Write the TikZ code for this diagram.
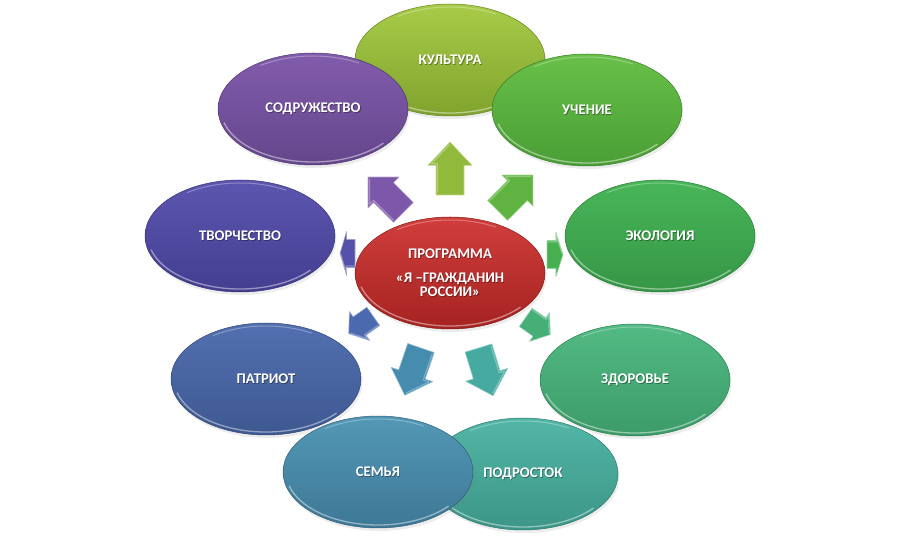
\documentclass[tikz,border=0pt]{standalone}
\usepackage{fontspec}
\setmainfont{Carlito}
\usetikzlibrary{shapes.geometric,shadows,calc}

\definecolor{kultA}{RGB}{168,204,72}\definecolor{kultB}{RGB}{128,163,45}
\definecolor{sodrA}{RGB}{130,92,172}\definecolor{sodrB}{RGB}{100,70,140}
\definecolor{uchA}{RGB}{104,192,72}\definecolor{uchB}{RGB}{74,158,54}
\definecolor{ekoA}{RGB}{72,182,88}\definecolor{ekoB}{RGB}{54,150,70}
\definecolor{zdorA}{RGB}{82,186,132}\definecolor{zdorB}{RGB}{60,155,105}
\definecolor{podrA}{RGB}{82,182,166}\definecolor{podrB}{RGB}{60,150,135}
\definecolor{semA}{RGB}{82,152,182}\definecolor{semB}{RGB}{62,120,150}
\definecolor{patA}{RGB}{82,112,176}\definecolor{patB}{RGB}{62,88,145}
\definecolor{tvorA}{RGB}{92,86,176}\definecolor{tvorB}{RGB}{68,62,145}
\definecolor{redA}{RGB}{208,62,60}\definecolor{redB}{RGB}{165,35,33}

\definecolor{arKult}{RGB}{145,185,60}
\definecolor{arSodr}{RGB}{125,88,170}
\definecolor{arUch}{RGB}{95,180,65}
\definecolor{arEko}{RGB}{70,175,80}
\definecolor{arZdor}{RGB}{70,175,120}
\definecolor{arPodr}{RGB}{70,170,160}
\definecolor{arSem}{RGB}{70,140,175}
\definecolor{arPat}{RGB}{75,105,175}
\definecolor{arTvor}{RGB}{85,80,170}

\tikzset{
  oval/.style={ellipse, minimum width=190pt, minimum height=112pt, inner sep=0pt,
    drop shadow={shadow xshift=1.5pt, shadow yshift=-3pt, opacity=0.15}},
  lbl/.style={text=white, font=\bfseries\fontsize{14.7}{16}\selectfont, align=center, inner sep=0pt},
  lblshadow/.style={lbl, text=black, text opacity=0.35},
  rim/.style={white, opacity=0.45, line width=1.3pt},
  toprim/.style={white, opacity=0.3, line width=1pt},
  arrowbody/.style={line width=0.6pt, line join=round},
  arrowhl/.style={white, opacity=0.3, line width=1.2pt, line join=round}
}

\newcommand\myoval[5]{%
  \node[oval, top color=#3, bottom color=#4, draw=#4!80!black, line width=0.5pt] (#1) at (#2) {};
  \draw[rim] ($(#1.center)+(195:92pt and 53pt)$) arc[start angle=195, end angle=320, x radius=92pt, y radius=53pt];
  \draw[toprim] ($(#1.center)+(60:92pt and 53pt)$) arc[start angle=60, end angle=125, x radius=92pt, y radius=53pt];
  \node[lblshadow] (#1-s) at ($(#1.center)+(0.8,-0.8)$) {#5};
  \node[lbl] (#1-t) at (#1.center) {#5};
}

\newcommand\blockarr[5]{%
  \begin{scope}[shift={(#1)}, rotate=#2, xscale=#3, yscale=#4]
    \filldraw[arrowbody, fill=#5, draw=#5!55!white]
      (0,-14) -- (28,-14) -- (28,-22) -- (50,0) -- (28,22) -- (28,14) -- (0,14) -- cycle;
    \draw[arrowhl] (1.5,12.5) -- (29.5,12.5) -- (29.5,18.5) -- (47.5,0.5);
  \end{scope}}

\begin{document}
\begin{tikzpicture}[x=1pt,y=1pt]
\useasboundingbox (0,0) rectangle (902,538);

\myoval{kult}{450,478}{kultA}{kultB}{КУЛЬТУРА}
\myoval{sodr}{313,429}{sodrA}{sodrB}{СОДРУЖЕСТВО}
\myoval{uch}{587,428}{uchA}{uchB}{УЧЕНИЕ}
\myoval{eko}{660,302}{ekoA}{ekoB}{ЭКОЛОГИЯ}
\myoval{zdor}{635,158}{zdorA}{zdorB}{ЗДОРОВЬЕ}
\myoval{podr}{523,64}{podrA}{podrB}{ПОДРОСТОК}
\myoval{sem}{378,66}{semA}{semB}{СЕМЬЯ}
\myoval{pat}{266,159}{patA}{patB}{ПАТРИОТ}
\myoval{tvor}{240,302}{tvorA}{tvorB}{ТВОРЧЕСТВО}
\myoval{prog}{450,265}{redA}{redB}{ПРОГРАММА\\[8pt]«Я –ГРАЖДАНИН\\[-2pt]РОССИИ»}

\blockarr{450,343}{90}{1.06}{1}{arKult}
\blockarr{403.4,325.6}{135}{1}{1}{arSodr}
\blockarr{497.6,327.6}{45}{1}{1}{arUch}
\blockarr{547,283.5}{0}{0.32}{1}{arEko}
\blockarr{525.7,220.6}{-35}{0.6}{0.8}{arZdor}
\blockarr{478.5,190}{-73}{1}{1}{arPodr}
\blockarr{421,190}{251}{1}{1}{arSem}
\blockarr{373.3,221.6}{215}{0.6}{0.8}{arPat}
\blockarr{355,284.5}{180}{0.3}{1}{arTvor}
\end{tikzpicture}
\end{document}
